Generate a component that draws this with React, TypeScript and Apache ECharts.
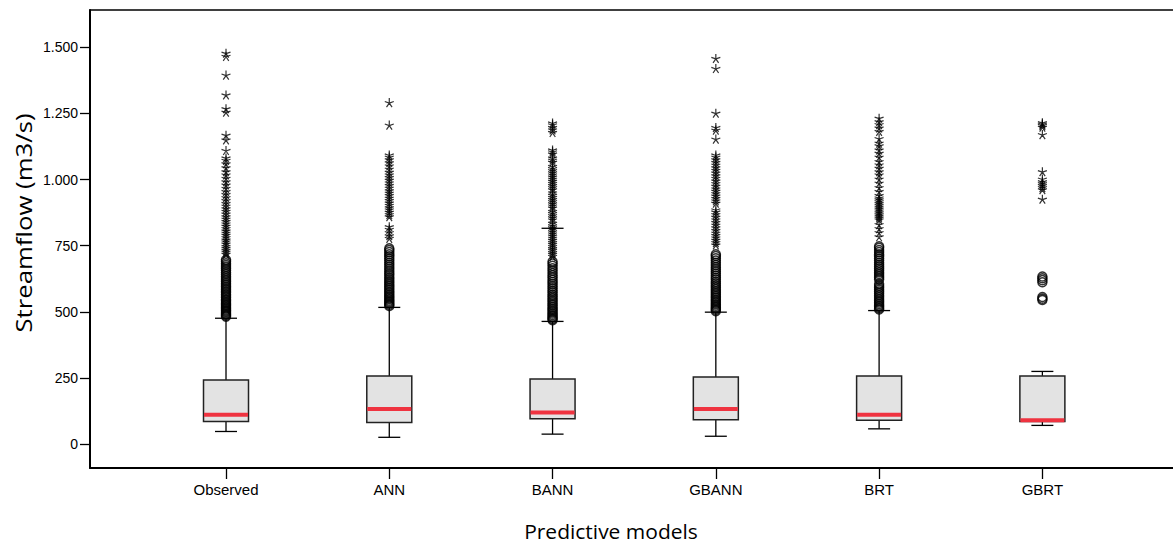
import React, { useEffect, useRef } from 'react';
import * as echarts from 'echarts';

const categories = ['Observed', 'ANN', 'BANN', 'GBANN', 'BRT', 'GBRT'];
const yTicks = [0, 250, 500, 750, 1000, 1250, 1500];

// [lower whisker, Q1, median, Q3, upper whisker]
const boxStats = [
  [48, 86, 111, 243, 476],
  [26, 82, 133, 258, 517],
  [38, 96, 120, 246, 464],
  [30, 92, 133, 254, 499],
  [58, 90, 111, 258, 505],
  [71, 86, 90, 258, 275],
];

// extra horizontal mark drawn in the BANN column
const extraCaps = [[3, 816]];

const observedCircles = [482, 486, 490, 494, 499, 503, 507, 512, 517, 522, 527, 532, 537, 543, 548, 554, 560, 566, 572, 578, 584, 590, 596, 602, 608, 615, 621, 628, 635, 642, 649, 656, 663, 670, 677, 684, 691, 697];
const observedStars = [718, 726, 733, 741, 748, 757, 765, 772, 781, 790, 798, 806, 815, 824, 833, 842, 851, 860, 870, 880, 890, 900, 910, 921, 932, 944, 955, 967, 980, 992, 1005, 1018, 1030, 1045, 1060, 1073, 1082, 1110, 1150, 1168, 1255, 1268, 1320, 1395, 1466, 1478];

const annCircles = [522, 527, 532, 537, 542, 548, 553, 559, 565, 571, 577, 584, 590, 597, 603, 610, 617, 624, 631, 639, 646, 654, 662, 670, 678, 686, 694, 702, 710, 718, 726, 734, 740];
const annStars = [778, 788, 800, 812, 822, 860, 868, 877, 886, 894, 903, 912, 921, 930, 940, 949, 958, 968, 978, 988, 998, 1008, 1018, 1028, 1040, 1052, 1064, 1075, 1085, 1093, 1206, 1291];

const bannCircles = [469, 473, 478, 483, 488, 494, 500, 506, 512, 518, 525, 531, 538, 545, 552, 559, 566, 574, 581, 589, 597, 605, 613, 621, 630, 638, 647, 656, 665, 674, 683, 690];
const bannStars = [710, 718, 725, 733, 740, 748, 756, 763, 771, 779, 787, 795, 803, 811, 818, 826, 835, 848, 856, 864, 872, 880, 893, 901, 909, 917, 925, 933, 941, 950, 962, 970, 978, 986, 994, 1002, 1010, 1018, 1026, 1034, 1042, 1050, 1066, 1074, 1082, 1097, 1105, 1112, 1178, 1188, 1197, 1207, 1214];

const gbannCircles = [503, 508, 513, 518, 523, 529, 535, 541, 547, 553, 559, 566, 572, 579, 586, 593, 600, 607, 614, 622, 629, 637, 645, 653, 661, 669, 677, 686, 694, 703, 711, 718];
const gbannStars = [753, 762, 771, 780, 789, 798, 808, 818, 828, 838, 848, 858, 868, 878, 886, 911, 920, 929, 938, 947, 956, 965, 975, 985, 995, 1005, 1015, 1025, 1035, 1045, 1055, 1065, 1075, 1085, 1093, 1153, 1187, 1197, 1251, 1420, 1458];

const brtCircles = [509, 514, 519, 524, 530, 536, 542, 549, 556, 563, 570, 577, 584, 591, 598, 605, 622, 629, 636, 643, 650, 657, 664, 671, 678, 686, 694, 702, 710, 718, 726, 734, 742, 748];
const brtStars = [784, 800, 815, 830, 848, 855, 862, 868, 875, 882, 889, 896, 903, 910, 917, 924, 931, 940, 955, 970, 987, 1002, 1018, 1030, 1043, 1056, 1068, 1085, 1100, 1112, 1128, 1138, 1155, 1182, 1195, 1208, 1219, 1232];

const gbrtCircles = [545, 550, 556, 612, 620, 627, 634];
const gbrtStars = [926, 962, 970, 978, 985, 992, 1002, 1030, 1170, 1198, 1205, 1210, 1215];

const circleGroups = [observedCircles, annCircles, bannCircles, gbannCircles, brtCircles, gbrtCircles];
const starGroups = [observedStars, annStars, bannStars, gbannStars, brtStars, gbrtStars];

const STAR = 'path://M0,0L0,-5M0,0L4.76,-1.55M0,0L2.94,4.05M0,0L-2.94,4.05M0,0L-4.76,-1.55';

const X_MIN = 0.167;
const X_MAX = 6.8;

const fmtY = (v: number) => {
  if (v >= 1000) {
    const th = Math.floor(v / 1000);
    return th + '.' + String(v % 1000).padStart(3, '0');
  }
  return String(v);
};

export default function App() {
  const ref = useRef<HTMLDivElement>(null);
  useEffect(() => {
    if (!ref.current) return;
    const chart = echarts.init(ref.current, null, { renderer: 'svg' });
    const boxData = boxStats.map((s, i) => [i + 1, ...s]);
    const circleData: number[][] = [];
    circleGroups.forEach((g, i) => g.forEach((v) => circleData.push([i + 1, v])));
    const starData: number[][] = [];
    starGroups.forEach((g, i) => g.forEach((v) => starData.push([i + 1, v])));
    const catPos = categories.map((_, i) => i + 1);

    chart.setOption({
      animation: false,
      backgroundColor: '#fff',
      grid: {
        left: 90,
        top: 10,
        bottom: 76,
        right: 0,
        show: false,
      },
      xAxis: [
        {
          type: 'value',
          min: X_MIN,
          max: X_MAX,
          splitLine: { show: false },
          axisLine: { show: true, onZero: false, lineStyle: { color: '#000', width: 2 } },
          axisTick: { show: true, length: 11, customValues: catPos, lineStyle: { color: '#000', width: 1.3 } },
          axisLabel: {
            customValues: catPos,
            formatter: (v: number) => categories[Math.round(v) - 1] || '',
            margin: 14,
            color: '#000',
            fontSize: 15,
            fontFamily: 'Liberation Sans',
          },
        },
        {
          type: 'value',
          position: 'top',
          min: X_MIN,
          max: X_MAX,
          splitLine: { show: false },
          axisLine: { show: true, onZero: false, lineStyle: { color: '#000', width: 1.5 } },
          axisTick: { show: false },
          axisLabel: { show: false },
        },
      ],
      yAxis: {
        type: 'value',
        min: -90,
        max: 1641,
        splitLine: { show: false },
        axisLine: { show: true, onZero: false, lineStyle: { color: '#000', width: 2 } },
        axisTick: { show: true, length: 10, customValues: yTicks, lineStyle: { color: '#000', width: 1.3 } },
        axisLabel: {
          customValues: yTicks,
          formatter: (v: number) => fmtY(v),
          margin: 12,
          color: '#000',
          fontSize: 14,
          fontFamily: 'Liberation Sans',
        },
      },
      graphic: [
        {
          type: 'text',
          x: 23,
          y: 223,
          rotation: Math.PI / 2,
          scaleX: 1.17,
          style: {
            text: 'Streamflow (m3/s)',
            fill: '#000',
            font: '22px "Open Sans"',
            textAlign: 'center',
            textVerticalAlign: 'middle',
          },
        },
        {
          type: 'text',
          x: 611,
          y: 531,
          scaleX: 1.05,
          style: {
            text: 'Predictive models',
            fill: '#000',
            font: '20px "Open Sans"',
            textAlign: 'center',
            textVerticalAlign: 'middle',
          },
        },
      ],
      series: [
        {
          type: 'custom',
          data: boxData,
          encode: { x: 0, y: [1, 2, 3, 4, 5] },
          z: 2,
          renderItem: (params: any, api: any) => {
            const x = api.value(0);
            const pLo = api.coord([x, api.value(1)]);
            const pQ1 = api.coord([x, api.value(2)]);
            const pMed = api.coord([x, api.value(3)]);
            const pQ3 = api.coord([x, api.value(4)]);
            const pHi = api.coord([x, api.value(5)]);
            const cx = pLo[0];
            const hb = 22.5;
            const hc = 11;
            const ls = { stroke: '#000', lineWidth: 1.3 };
            return {
              type: 'group',
              children: [
                { type: 'line', shape: { x1: cx, y1: pHi[1], x2: cx, y2: pQ3[1] }, style: ls },
                { type: 'line', shape: { x1: cx, y1: pQ1[1], x2: cx, y2: pLo[1] }, style: ls },
                { type: 'line', shape: { x1: cx - hc, y1: pHi[1], x2: cx + hc, y2: pHi[1] }, style: ls },
                { type: 'line', shape: { x1: cx - hc, y1: pLo[1], x2: cx + hc, y2: pLo[1] }, style: ls },
                {
                  type: 'rect',
                  shape: { x: cx - hb, y: pQ3[1], width: hb * 2, height: pQ1[1] - pQ3[1] },
                  style: { fill: '#e3e3e3', stroke: '#222', lineWidth: 1.5 },
                },
                {
                  type: 'line',
                  shape: { x1: cx - hb + 0.5, y1: pMed[1], x2: cx + hb - 0.5, y2: pMed[1] },
                  style: { stroke: '#ef3340', lineWidth: 4 },
                },
              ],
            };
          },
        },
        {
          type: 'custom',
          data: extraCaps,
          encode: { x: 0, y: 1 },
          z: 4,
          renderItem: (params: any, api: any) => {
            const p = api.coord([api.value(0), api.value(1)]);
            return {
              type: 'line',
              shape: { x1: p[0] - 11, y1: p[1], x2: p[0] + 11, y2: p[1] },
              style: { stroke: '#000', lineWidth: 1.3 },
            };
          },
        },
        {
          type: 'scatter',
          data: circleData,
          symbol: 'circle',
          symbolSize: 9,
          z: 3,
          itemStyle: { color: 'transparent', borderColor: '#000', borderWidth: 1.5 },
        },
        {
          type: 'scatter',
          data: starData,
          symbol: STAR,
          symbolSize: 9,
          z: 3,
          itemStyle: { color: 'transparent', borderColor: '#000', borderWidth: 1.2 },
        },
      ],
    });
    return () => chart.dispose();
  }, []);
  return <div ref={ref} style={{ position: 'fixed', left: 0, top: 0, width: 1173, height: 544 }} />;
}
